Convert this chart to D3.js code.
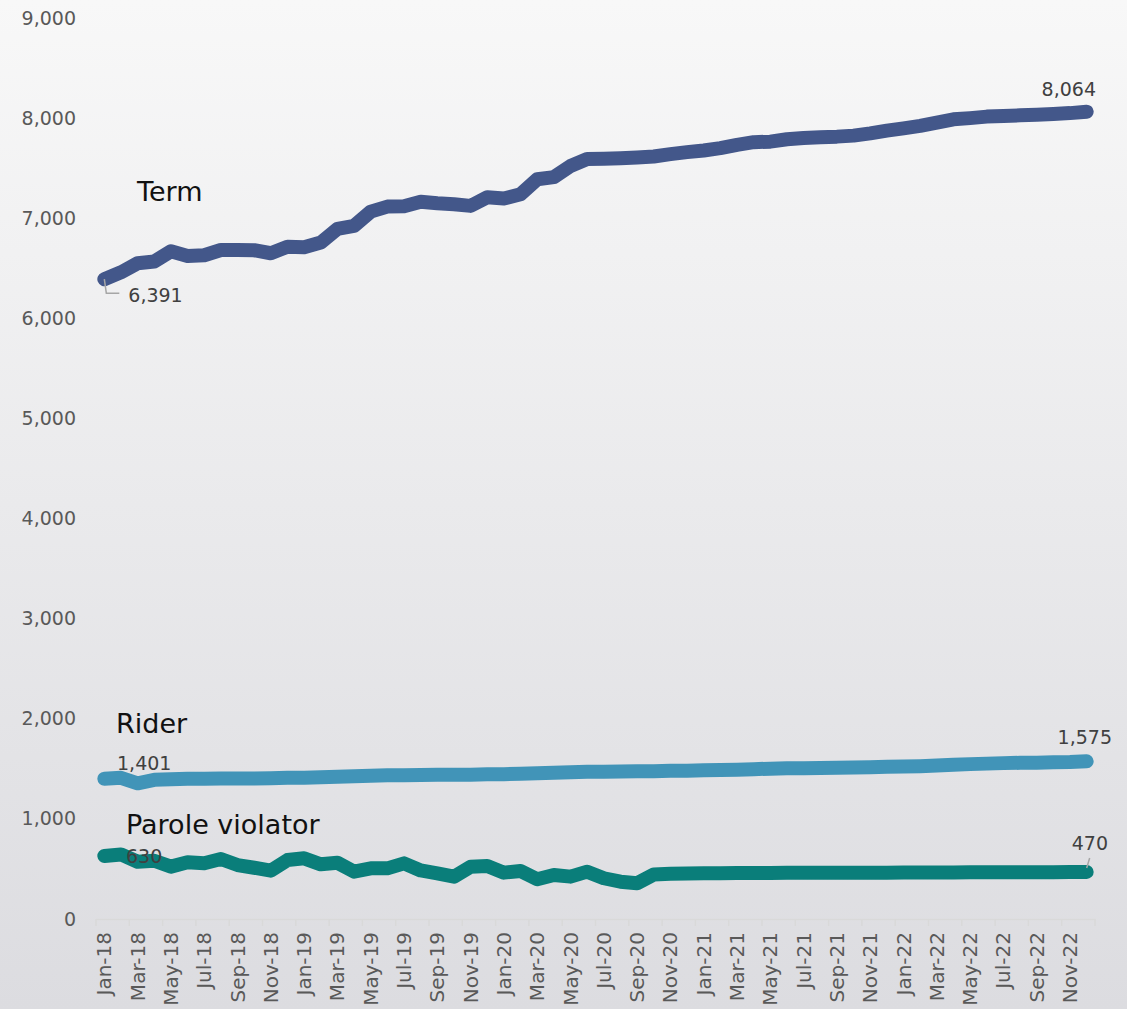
<!DOCTYPE html>
<html>
<head>
<meta charset="utf-8">
<script src="https://cdn.jsdelivr.net/npm/d3@7"></script>
<style>
  html, body { margin: 0; padding: 0; }
  body { width: 1127px; height: 1009px; overflow: hidden; }
  svg { display: block; font-family: "DejaVu Sans", sans-serif; }
</style>
</head>
<body>
<script>
const width = 1127;
const height = 1009;

// months Jan-18 .. Dec-22
const months = d3.timeMonth.range(new Date(2018, 0, 1), new Date(2023, 0, 1)).map(d3.timeFormat("%b-%y"));

const term = [
  6391, 6460, 6550, 6567, 6670, 6623, 6630, 6683, 6683, 6680,
  6650, 6716, 6710, 6757, 6893, 6923, 7066, 7116, 7120, 7165,
  7150, 7140, 7123, 7210, 7196, 7240, 7389, 7410, 7522, 7592,
  7595, 7600, 7607, 7617, 7640, 7660, 7677, 7700, 7733, 7760,
  7765, 7789, 7802, 7809, 7815, 7825, 7848, 7875, 7898, 7922,
  7955, 7988, 8000, 8015, 8022, 8028, 8033, 8040, 8050, 8064
];
const rider = [
  1401, 1410, 1355, 1390, 1395, 1400, 1402, 1403, 1403, 1403,
  1405, 1410, 1412, 1415, 1420, 1425, 1430, 1435, 1437, 1438,
  1440, 1440, 1442, 1445, 1447, 1450, 1455, 1460, 1465, 1470,
  1472, 1473, 1475, 1477, 1480, 1482, 1485, 1488, 1492, 1497,
  1502, 1505, 1507, 1508, 1510, 1513, 1516, 1520, 1523, 1527,
  1533, 1540, 1547, 1552, 1557, 1560, 1562, 1565, 1568, 1575
];
const parole = [
  630, 645, 572, 582, 523, 566, 556, 599, 539, 512,
  483, 589, 606, 546, 562, 473, 506, 506, 556, 485,
  456, 423, 523, 529, 463, 480, 397, 440, 423, 473,
  407, 373, 357, 445, 452, 455, 458, 458, 459, 460,
  460, 461, 461, 461, 462, 462, 463, 463, 464, 464,
  465, 465, 466, 466, 467, 467, 468, 468, 469, 470
];
const yTicks = [0, 1000, 2000, 3000, 4000, 5000, 6000, 7000, 8000, 9000];

const series = [
  {name: "Term", values: term, color: "#43578a"},
  {name: "Rider", values: rider, color: "#4194b8"},
  {name: "Parole violator", values: parole, color: "#0a7e7a"}
];

const fmt = d3.format(",");

const svg = d3.select("body").append("svg")
  .attr("width", width)
  .attr("height", height);

const grad = svg.append("defs").append("linearGradient")
  .attr("id", "bg").attr("x1", 0).attr("y1", 0).attr("x2", 0).attr("y2", 1);
grad.append("stop").attr("offset", "0%").attr("stop-color", "#f8f8f8");
grad.append("stop").attr("offset", "100%").attr("stop-color", "#dcdce0");

svg.append("rect").attr("width", width).attr("height", height).attr("fill", "url(#bg)");

const x = d3.scaleBand()
  .domain(months)
  .range([96, 1095])
  .padding(0);

const y = d3.scaleLinear()
  .domain([0, 9000])
  .range([919, 18]);

const cx = (i) => x(months[i]) + x.bandwidth() / 2;

// y axis labels only
const yAxis = d3.axisLeft(y).tickValues(yTicks).tickFormat(fmt).tickSize(0).tickPadding(0);
const gy = svg.append("g").attr("transform", "translate(76,0)").call(yAxis);
gy.select(".domain").remove();
gy.selectAll("text")
  .attr("font-size", 19)
  .attr("font-family", "DejaVu Sans, sans-serif")
  .attr("fill", "#595959");

// x axis
const labelMonths = months.filter((d, i) => i % 2 === 0);
const xAxis = d3.axisBottom(x).tickValues(labelMonths).tickSize(0);
const gx = svg.append("g").attr("transform", "translate(0,919)").call(xAxis);
gx.select(".domain").attr("stroke", "#d9d9d9").attr("stroke-width", 1.5);
gx.selectAll("text")
  .attr("font-size", 20)
  .attr("font-family", "DejaVu Sans, sans-serif")
  .attr("fill", "#595959")
  .attr("transform", "rotate(-90)")
  .attr("text-anchor", "end")
  .attr("x", -13)
  .attr("y", 0)
  .attr("dy", "0.35em");

// tick marks at band boundaries every 2 months
const tickPos = labelMonths.map(m => x(m)).concat([x.range()[1]]);
svg.append("g").selectAll("line")
  .data(tickPos)
  .enter()
  .append("line")
  .attr("x1", d => d).attr("x2", d => d)
  .attr("y1", 919).attr("y2", 926)
  .attr("stroke", "#d9d9d9")
  .attr("stroke-width", 1.5);

// lines
const line = d3.line()
  .x((d, i) => cx(i))
  .y(d => y(d));

svg.append("g").selectAll("path")
  .data(series)
  .enter()
  .append("path")
  .attr("d", d => line(d.values))
  .attr("fill", "none")
  .attr("stroke", d => d.color)
  .attr("stroke-width", 14)
  .attr("stroke-linecap", "round")
  .attr("stroke-linejoin", "round");

// series names
const names = [
  {text: "Term", x: 137, y: 201},
  {text: "Rider", x: 116, y: 733},
  {text: "Parole violator", x: 126, y: 834}
];
svg.append("g").selectAll("text")
  .data(names)
  .enter()
  .append("text")
  .attr("x", d => d.x)
  .attr("y", d => d.y)
  .attr("font-size", 27)
  .attr("fill", "#111")
  .text(d => d.text);

// data labels
const last = months.length - 1;
const dataLabels = [
  {v: term[0], x: cx(0) + 24, y: y(term[0]) + 16, anchor: "start"},
  {v: term[last], x: 1096, y: y(term[last]) - 22, anchor: "end"},
  {v: rider[0], x: 117, y: y(rider[0]) - 15, anchor: "start"},
  {v: rider[last], x: 1112, y: y(rider[last]) - 24, anchor: "end"},
  {v: parole[0], x: 126, y: y(parole[0]), anchor: "start"},
  {v: parole[last], x: 1108, y: y(parole[last]) - 29, anchor: "end"}
];
svg.append("g").selectAll("text")
  .data(dataLabels)
  .enter()
  .append("text")
  .attr("x", d => d.x)
  .attr("y", d => d.y)
  .attr("dy", "0.35em")
  .attr("text-anchor", d => d.anchor)
  .attr("font-size", 19)
  .attr("fill", "#404040")
  .text(d => fmt(d.v));

// leader lines
const x0 = cx(0), y0 = y(term[0]);
svg.append("polyline")
  .attr("points", `${x0},${y0} ${x0 + 2},${y0 + 14} ${x0 + 15},${y0 + 14}`)
  .attr("fill", "none")
  .attr("stroke", "#a6a6a6")
  .attr("stroke-width", 1.5);

const xl = cx(last), yl = y(parole[last]);
svg.append("line")
  .attr("x1", xl).attr("y1", yl - 4)
  .attr("x2", xl + 3).attr("y2", yl - 14)
  .attr("stroke", "#a6a6a6")
  .attr("stroke-width", 1.5);
</script>
</body>
</html>
